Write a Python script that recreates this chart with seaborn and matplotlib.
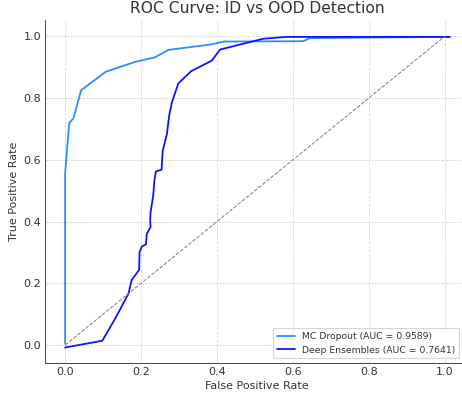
import pandas as pd
import matplotlib
matplotlib.use("Agg")
import matplotlib.pyplot as plt
import seaborn as sns

# values
mc_fpr = [0.0, 0.0, 0.006, 0.011, 0.022, 0.042, 0.107, 0.184, 0.237, 0.272,
          0.382, 0.419, 0.627, 0.645, 1.013]
mc_tpr = [0.005, 0.555, 0.65, 0.72, 0.734, 0.825, 0.885, 0.917, 0.932, 0.956,
          0.973, 0.983, 0.984, 0.994, 0.998]

de_fpr = [0.0, 0.098, 0.132, 0.167, 0.175, 0.195, 0.196, 0.202, 0.213, 0.215,
          0.225, 0.224, 0.225, 0.232, 0.235, 0.239, 0.254, 0.257, 0.268, 0.274,
          0.281, 0.298, 0.332, 0.386, 0.408, 0.522, 0.583, 1.013]
de_tpr = [-0.008, 0.014, 0.086, 0.167, 0.21, 0.244, 0.301, 0.319, 0.326, 0.36,
          0.382, 0.403, 0.43, 0.484, 0.532, 0.562, 0.568, 0.629, 0.683, 0.742,
          0.785, 0.847, 0.887, 0.921, 0.957, 0.992, 0.998, 0.998]

mc_label = "MC Dropout (AUC = 0.9589)"
de_label = "Deep Ensembles (AUC = 0.7641)"
ticks = [0.0, 0.2, 0.4, 0.6, 0.8, 1.0]

df = pd.concat([
    pd.DataFrame({"fpr": mc_fpr, "tpr": mc_tpr, "model": mc_label}),
    pd.DataFrame({"fpr": de_fpr, "tpr": de_tpr, "model": de_label}),
], ignore_index=True)

sns.set_style("whitegrid", {"grid.linestyle": "--", "grid.color": "#d4d4d4",
                            "axes.edgecolor": "#333333"})
plt.rcParams["font.family"] = ["DejaVu Sans"]

fig = plt.figure(figsize=(462 / 80, 398 / 80), dpi=80)
ax = fig.add_axes([0.0974, 0.088, 0.918, 0.862])

sns.lineplot(data=df, x="fpr", y="tpr", hue="model", sort=False, estimator=None,
             palette={mc_label: "#2b8cff", de_label: "#1010ff"},
             linewidth=1.6, ax=ax)
ax.plot([0, 1], [0, 1], linestyle="--", color="gray", linewidth=0.9)

ax.grid(linewidth=0.7)
ax.set_xlim(-0.053, 1.064)
ax.set_ylim(-0.058, 1.053)
ax.set_xticks(ticks)
ax.set_yticks(ticks)
ax.tick_params(labelsize=10, colors="#333333", length=0)
ax.set_xlabel("False Positive Rate", fontsize=10, color="#333333")
ax.set_ylabel("True Positive Rate", fontsize=10, color="#333333")
ax.set_title("ROC Curve: ID vs OOD Detection", fontsize=14, color="#333333")
sns.despine(ax=ax)
ax.legend(loc="lower right", fontsize="small", bbox_to_anchor=(0.988, 0.0),
          labelcolor="#333333")

fig.savefig("out.png", dpi=80)
